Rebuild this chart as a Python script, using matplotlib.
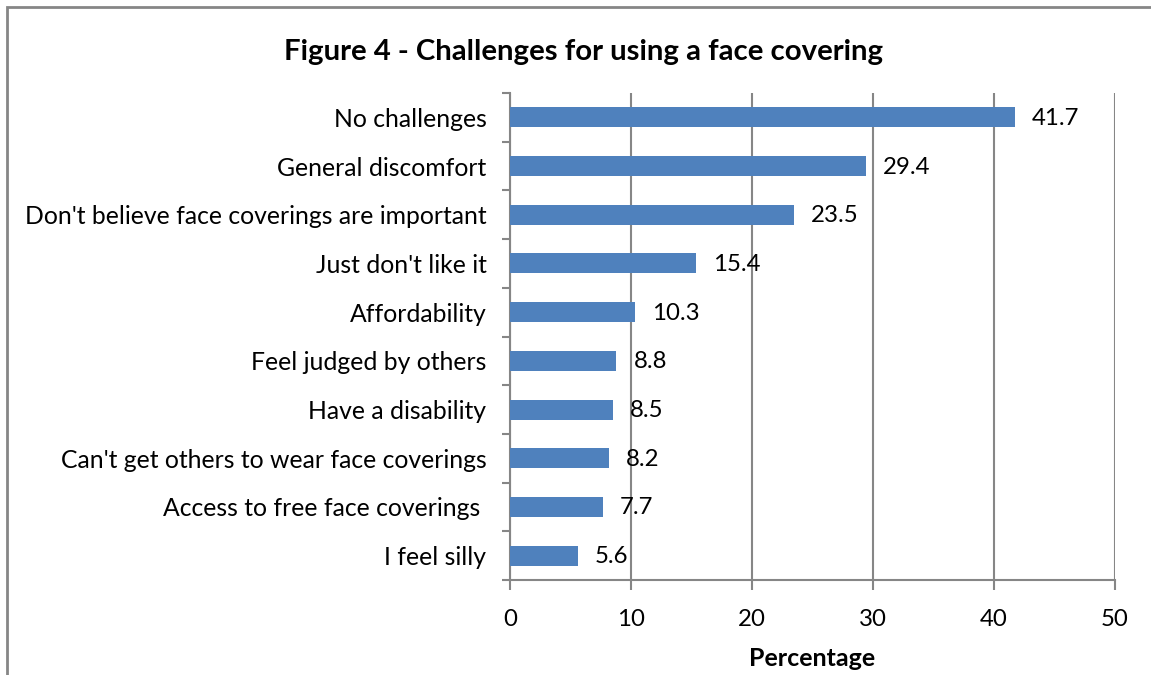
import matplotlib
matplotlib.use("Agg")
import matplotlib.pyplot as plt
from matplotlib.patches import Rectangle

categories = ["No challenges", "General discomfort", "Don't believe face coverings are important",
              "Just don't like it", "Affordability", "Feel judged by others", "Have a disability",
              "Can't get others to wear face coverings", "Access to free face coverings ", "I feel silly"]
values = [41.7, 29.4, 23.5, 15.4, 10.3, 8.8, 8.5, 8.2, 7.7, 5.6]
xticks = [0, 10, 20, 30, 40, 50]

plt.rcParams['font.family'] = ['Lato', 'DejaVu Sans']
W, H = 1151, 675
fig = plt.figure(figsize=(W / 100, H / 100), dpi=100)
fig.patches.append(Rectangle((7 / W, -0.1), 1.2, 1 - 7 / H + 0.1, transform=fig.transFigure,
                             fill=False, edgecolor='#868686', linewidth=2))

ax = fig.add_axes([510 / W, 1 - 580 / H, (1115 - 510) / W, (580 - 93) / H])
n = len(categories)
ypos = list(range(n))[::-1]
ax.barh(ypos, values, height=0.41, color='#4F81BD', zorder=3)
for y, v in zip(ypos, values):
    ax.annotate(f"{v}", (v, y), xytext=(17, -1), textcoords='offset pixels',
                ha='left', va='center', fontsize=17.3, color='black', zorder=4)

ax.set_xlim(0, 50)
ax.set_ylim(-0.5, n - 0.5)
ax.set_xticks(xticks)
ax.set_xticklabels([str(t) for t in xticks], fontsize=17.3)
ax.set_yticks(ypos)
ax.set_yticklabels(categories, fontsize=17.8)
ax.set_yticks([i - 0.5 for i in range(n + 1)], minor=True)
ax.tick_params(axis='y', which='major', length=0, pad=17)
ax.tick_params(axis='y', which='minor', length=6, width=1.5, color='#868686')
ax.tick_params(axis='x', length=7, width=1.5, color='#868686', pad=14)
ax.grid(axis='x', color='#868686', linewidth=1.5, zorder=0)
for s in ['top', 'right']:
    ax.spines[s].set_visible(False)
for s in ['left', 'bottom']:
    ax.spines[s].set_color('#868686')
    ax.spines[s].set_linewidth(1.5)
ax.set_xlabel("Percentage", fontsize=18, fontweight='bold', labelpad=12)

fig.text((283 + 884) / 2 / W, 1 - 52 / H, "Figure 4 - Challenges for using a face covering",
         ha='center', va='center', fontsize=21.2, fontweight='bold')

fig.savefig("out.png", dpi=100)
